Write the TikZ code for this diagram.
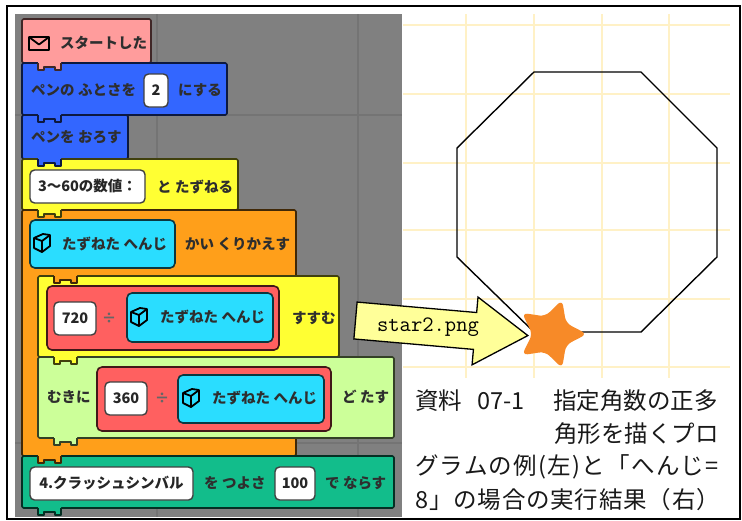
\documentclass[tikz,border=0pt]{standalone}
\usepackage{fontspec}
\newfontfamily\jp{Noto Sans CJK JP}
\newfontfamily\jpwide{Noto Sans CJK JP}[LetterSpace=5.5]
\newfontfamily\jpmid{Noto Sans CJK JP}[LetterSpace=3.5]
\usetikzlibrary{calc}

\definecolor{canvas}{HTML}{808080}
\definecolor{canvasline}{HTML}{747474}
\definecolor{hatpink}{HTML}{FF9C9C}
\definecolor{penblue}{HTML}{3366FF}
\definecolor{askyellow}{HTML}{FFFF33}
\definecolor{looporange}{HTML}{FF9F1A}
\definecolor{reportcyan}{HTML}{2ADDFF}
\definecolor{opred}{HTML}{FF6060}
\definecolor{turngreen}{HTML}{CCFF99}
\definecolor{soundgreen}{HTML}{12BD8B}
\definecolor{starorange}{HTML}{F78A28}
\definecolor{arrowyellow}{HTML}{FFFF99}
\definecolor{stagegrid}{HTML}{FFF1C6}
\definecolor{blocktext}{HTML}{2E2E2E}

% bottom connector tab of a stack block: x, y of the joint, colour
\newcommand\blocktab[3]{%
  \fill[#3] (#1,#2-1.6) -- (#1,#2+7) -- (#1+6,#2+7) -- (#1+6,#2+4) -- (#1+17,#2+4)
    -- (#1+17,#2+7) -- (#1+23,#2+7) -- (#1+23,#2-1.6) -- cycle;
  \draw[edge=#3] (#1,#2) -- (#1,#2+7) -- (#1+6,#2+7) -- (#1+6,#2+4) -- (#1+17,#2+4)
    -- (#1+17,#2+7) -- (#1+23,#2+7) -- (#1+23,#2);
}

\tikzset{
  edge/.style={draw=#1!25!black, line width=1.6pt, line join=round},
  stackblock/.style={fill=#1, edge=#1, rounded corners=1.5pt},
  reporter/.style={fill=#1, edge=#1, rounded corners=5pt},
  lbl/.style={font=\jp\bfseries\fontsize{14.5}{16}\selectfont, text=blocktext,
    inner sep=0pt, anchor=west},
  inbox/.style={fill=white, draw=black!75, line width=1.4pt, rounded corners=4.5pt,
    font=\jp\bfseries\fontsize{14.5}{16}\selectfont, text=black!85, inner sep=0pt},
  caption/.style={font=\jp\fontsize{23.5}{26}\selectfont, text=black!90, inner sep=0pt},
  widecaption/.style={caption, font=\jpwide\fontsize{23.5}{26}\selectfont},
  midcaption/.style={caption, font=\jpmid\fontsize{23.5}{26}\selectfont},
  cube/.pic={
    \draw[line width=1.8pt, line join=round, fill=reportcyan]
      (0,4) -- (9,0) -- (16,1) -- (16,12) -- (8,18) -- (0,14) -- cycle;
    \draw[line width=1.8pt, line join=round] (0,4) -- (8,7) -- (16,1) (8,7) -- (8,18);
  },
}

\begin{document}
\begin{tikzpicture}[x=1pt,y=-1pt]
\useasboundingbox (0,0) rectangle (742,520);
\fill[white] (0,0) rectangle (742,520);

% ---------- code area ----------
\fill[canvas] (15,14) rectangle (402,517);
\draw[canvasline, line width=2pt] (157,14) -- (157,517) (358,14) -- (358,517)
  (15,115) -- (402,115) (15,443) -- (402,443);

% ---------- stage ----------
\draw[stagegrid, line width=1.3pt]
  \foreach \gx in {466,534,602,669} { (\gx,14) -- (\gx,378) }
  \foreach \gy in {25,94,163,230,299,367} { (403,\gy) -- (730,\gy) };

% octagon drawn by the pen
\draw[line width=1.4pt, line join=miter]
  (534,72) -- (641,72) -- (717,148) -- (717,257) -- (641,332) -- (534,332)
  -- (457,257) -- (457,148) -- cycle;

% ---------- script blocks ----------
\path[stackblock=hatpink] (22,19) rectangle (151,63);
\path[stackblock=penblue] (22,63) rectangle (227,115);
\path[stackblock=penblue] (22,115) rectangle (128,159);
\path[stackblock=askyellow] (22,159) rectangle (238,210);
\path[stackblock=looporange] (22,210) rectangle (296,456);
\path[stackblock=askyellow] (38,276) rectangle (339,357);
\path[stackblock=turngreen] (38,357) rectangle (394,438);
\path[stackblock=soundgreen] (22,456) rectangle (394,508);

\blocktab{38}{63}{hatpink}
\blocktab{38}{115}{penblue}
\blocktab{38}{159}{penblue}
\blocktab{38}{210}{askyellow}
\blocktab{54}{276}{looporange}
\blocktab{54}{357}{askyellow}
\blocktab{54}{438}{turngreen}
\blocktab{38}{456}{looporange}
\blocktab{38}{508}{soundgreen}

% when started
\draw[line width=1.8pt, line join=round] (29,37) rectangle (49,50) (29,37) -- (39,44.5) -- (49,37);
\node[lbl] (start) at (60,43) {スタートした};

% pen size
\node[lbl] (pensize) at (31,90) {ペンの ふとさを};
\node[inbox, minimum width=24, minimum height=33] (sizeval) at (156,90.5) {2};
\node[lbl] (pensizeset) at (178,90) {にする};

% pen down
\node[lbl] (pendown) at (31,137) {ペンを おろす};

% ask
\node[inbox, minimum width=115, minimum height=33] (askq) at (87.5,186.5) {3〜60の数値：};
\node[lbl] (ask) at (157,187) {と たずねる};

% repeat
\path[reporter=reportcyan] (30,220) rectangle (175,268);
\pic at (34,234) {cube};
\node[lbl] (ans1) at (62,244) {たずねた へんじ};
\node[lbl] (repeat) at (185,244) {かい くりかえす};

% move
\path[reporter=opred] (47,286) rectangle (279,350);
\node[inbox, minimum width=42, minimum height=33] (dist) at (75,318.5) {720};
\node[lbl, anchor=center, text=black!60] (div1) at (109,318) {÷};
\path[reporter=reportcyan] (127,293) rectangle (273,342);
\pic at (131,308) {cube};
\node[lbl] (ans2) at (160,317) {たずねた へんじ};
\node[lbl] (move) at (292,318) {すすむ};

% turn
\node[lbl] (turn) at (47,397) {むきに};
\path[reporter=opred] (97,367) rectangle (331,431);
\node[inbox, minimum width=42, minimum height=33] (angle) at (126,398.5) {360};
\node[lbl, anchor=center, text=black!60] (div2) at (162,398) {÷};
\path[reporter=reportcyan] (178,375) rectangle (324,423);
\pic at (183,389) {cube};
\node[lbl] (ans3) at (212,398) {たずねた へんじ};
\node[lbl] (turnadd) at (342,397) {ど たす};

% play drum
\node[inbox, minimum width=163, minimum height=33] (drum) at (111.5,483.5) {4.クラッシュシンバル};
\node[lbl] (strength) at (204,483) {を つよさ};
\node[inbox, minimum width=40, minimum height=33] (vol) at (295,483.5) {100};
\node[lbl] (play) at (325,483) {で ならす};

% ---------- sprite costume callout ----------
\begin{scope}[shift={(355.5,320.5)}, rotate=-5]
  \draw[fill=arrowyellow, line width=1.3pt, line join=miter]
    (0,-18.5) -- (120,-18.5) -- (120,-34) -- (173,0) -- (120,34) -- (120,18.5)
    -- (0,18.5) -- cycle;
\end{scope}
\node[font=\ttfamily\fontsize{22}{24}\selectfont, inner sep=0pt] (costume) at (428,327) {star2.png};

% sprite
\begin{scope}[shift={(551,334)}]
  \fill[starorange, rounded corners=6pt]
    (0:36) -- (36:18.5) -- (72:36) -- (108:18.5) -- (144:36) -- (180:18.5)
    -- (216:36) -- (252:18.5) -- (288:36) -- (324:18.5) -- cycle;
\end{scope}

% ---------- caption ----------
\fill[white] (403,379) rectangle (737,516);
\node[caption, anchor=west] (cap1) at (415,401) {資料\hspace{15pt}07-1\hspace{29pt}指定角数の正多};
\node[caption, anchor=east] (cap2) at (719,434) {角形を描くプロ};
\node[widecaption, anchor=west] (cap3) at (415,467) {グラムの例(左)と「へんじ=};
\node[midcaption, anchor=west] (cap4) at (415,500) {8」の場合の実行結果（右）};

% outer frame
\draw[line width=1.5pt] (7,6) rectangle (740,519);
\end{tikzpicture}
\end{document}
